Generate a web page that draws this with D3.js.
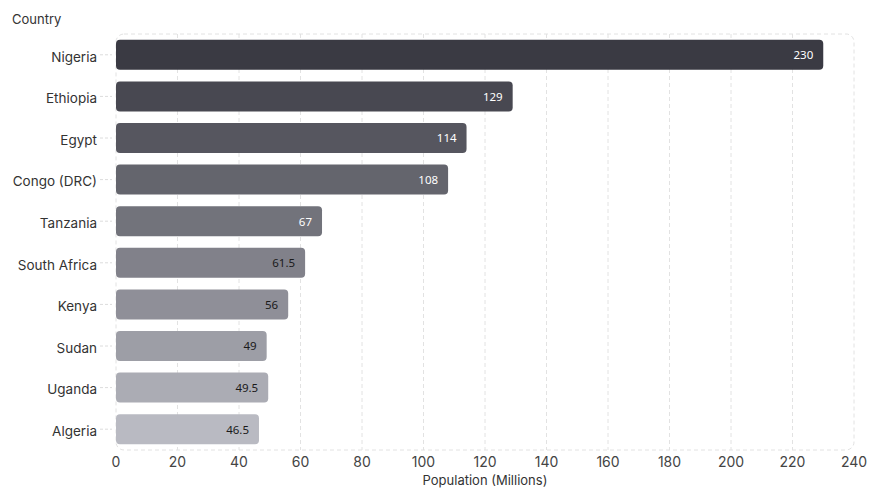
<!DOCTYPE html>
<html>
<head>
  <meta charset="utf-8">
  <script src="https://d3js.org/d3.v7.min.js"></script>
  <style>
    body { margin: 0; background: #fff; }
    text { font-family: Inter, "Noto Sans", sans-serif; }
  </style>
</head>
<body>
  <div id="chart"></div>
  <script>
    var countries = ["Nigeria", "Ethiopia", "Egypt", "Congo (DRC)", "Tanzania",
                     "South Africa", "Kenya", "Sudan", "Uganda", "Algeria"];
    var population = [230, 129, 114, 108, 67, 61.5, 56, 49, 49.5, 46.5];
    var xTicks = [0, 20, 40, 60, 80, 100, 120, 140, 160, 180, 200, 220, 240];

    var data = countries.map(function(c, i) { return {country: c, value: population[i], i: i}; });

    var margin = {top: 34, right: 26, bottom: 50, left: 116};
    var width = 880 - margin.left - margin.right;
    var height = 500 - margin.top - margin.bottom;

    var x = d3.scaleLinear().domain([0, 240]).range([0, width]);
    var y = d3.scaleBand().domain(countries).range([0, height]).paddingInner(0.28).paddingOuter(0.14);
    var color = d3.scaleLinear().domain([0, countries.length - 1])
      .range(["#3a3a43", "#b9bac2"]).interpolate(d3.interpolateRgb);

    var svg = d3.select("#chart").append("svg")
      .attr("width", 880).attr("height", 500);
    var g = svg.append("g")
      .attr("transform", "translate(" + margin.left + "," + margin.top + ")");

    // grid
    g.selectAll(".grid").data(xTicks.filter(function(t) { return t > 0 && t < 240; }))
      .enter().append("line")
      .attr("x1", function(d) { return x(d); }).attr("x2", function(d) { return x(d); })
      .attr("y1", 0).attr("y2", height)
      .attr("stroke", "#e2e2e2").attr("stroke-dasharray", "4,3");

    g.append("rect")
      .attr("x", 0).attr("y", 0).attr("width", width).attr("height", height)
      .attr("rx", 8).attr("fill", "none")
      .attr("stroke", "#e2e2e2").attr("stroke-dasharray", "4,3");

    // y tick dashes
    g.selectAll(".ytick").data(countries).enter().append("line")
      .attr("x1", -16).attr("x2", -4)
      .attr("y1", function(d) { return y(d) + y.bandwidth() / 2; })
      .attr("y2", function(d) { return y(d) + y.bandwidth() / 2; })
      .attr("stroke", "#dcdcdc").attr("stroke-dasharray", "3,2");

    g.selectAll(".ylabel").data(countries).enter().append("text")
      .attr("x", -19)
      .attr("y", function(d) { return y(d) + y.bandwidth() / 2; })
      .attr("dy", "0.5em").attr("text-anchor", "end")
      .attr("font-size", 13.5).attr("fill", "#333")
      .text(function(d) { return d; });

    // bars
    g.selectAll(".bar").data(data).enter().append("rect")
      .attr("x", 0)
      .attr("y", function(d) { return y(d.country); })
      .attr("width", function(d) { return x(d.value); })
      .attr("height", y.bandwidth())
      .attr("rx", 4)
      .attr("fill", function(d) { return color(d.i); });

    g.selectAll(".val").data(data).enter().append("text")
      .attr("x", function(d) { return x(d.value) - 10; })
      .attr("y", function(d) { return y(d.country) + y.bandwidth() / 2; })
      .attr("dy", "0.38em").attr("text-anchor", "end")
      .style("font-family", "'Noto Sans', sans-serif")
      .attr("font-size", 11.5)
      .attr("fill", function(d) { return d.i < 5 ? "#ffffff" : "#1a1a1a"; })
      .text(function(d) { return d.value; });

    // x axis
    g.selectAll(".xtick").data(xTicks).enter().append("text")
      .attr("x", function(d) { return x(d); })
      .attr("y", height + 17)
      .attr("text-anchor", "middle")
      .attr("font-size", 14).attr("fill", "#444")
      .text(function(d) { return d; });

    g.append("text")
      .attr("x", width / 2).attr("y", height + 35)
      .attr("text-anchor", "middle")
      .attr("font-size", 13).attr("fill", "#333")
      .text("Population (Millions)");

    svg.append("text")
      .attr("x", 12).attr("y", 24)
      .attr("font-size", 13).attr("fill", "#333")
      .text("Country");
  </script>
</body>
</html>
